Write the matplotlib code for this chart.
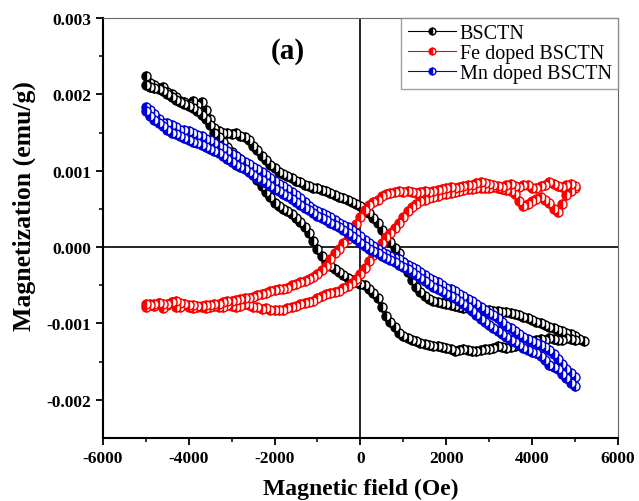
import numpy as np
import matplotlib
matplotlib.use('Agg')
from matplotlib import pyplot as plt

plt.rcParams['font.family'] = ['Liberation Serif', 'DejaVu Serif']

# field sweep (Oe), -5000 -> 5000
field_up = [-5000, -4900, -4800, -4700, -4600, -4500, -4400, -4300, -4200, -4100,
            -4000, -3900, -3800, -3700, -3600, -3500, -3400, -3300, -3200, -3100,
            -3000, -2900, -2800, -2700, -2600, -2500, -2400, -2300, -2200, -2100,
            -2000, -1900, -1800, -1700, -1600, -1500, -1400, -1300, -1200, -1100,
            -1000, -900, -800, -700, -600, -500, -400, -300, -200, -100,
            0, 100, 200, 300, 400, 500, 600, 700, 800, 900,
            1000, 1100, 1200, 1300, 1400, 1500, 1600, 1700, 1800, 1900,
            2000, 2100, 2200, 2300, 2400, 2500, 2600, 2700, 2800, 2900,
            3000, 3100, 3200, 3300, 3400, 3500, 3600, 3700, 3800, 3900,
            4000, 4100, 4200, 4300, 4400, 4500, 4600, 4700, 4800, 4900,
            5000]
field_down = field_up[::-1]

# BSCTN
bsctn_up = [0.00224, 0.00215, 0.00212, 0.00208, 0.00210, 0.00203, 0.00200, 0.00196, 0.00192, 0.00190,
            0.00187, 0.00192, 0.00186, 0.00190, 0.00180, 0.00168, 0.00156, 0.00152, 0.00150, 0.00149,
            0.00148, 0.00150, 0.00146, 0.00144, 0.00140, 0.00133, 0.00127, 0.00120, 0.00114, 0.00108,
            0.00104, 0.00099, 0.00096, 0.00093, 0.00090, 0.00087, 0.00085, 0.00082, 0.00080, 0.00078,
            0.00077, 0.00075, 0.00073, 0.00071, 0.00068, 0.00066, 0.00064, 0.00062, 0.00059, 0.00057,
            0.00054, 0.00050, 0.00045, 0.00038, 0.00031, 0.00023, 0.00015, 0.00007, -0.00001, -0.00008,
            -0.00020, -0.00032, -0.00043, -0.00052, -0.00059, -0.00064, -0.00068, -0.00070, -0.00072, -0.00073,
            -0.00075, -0.00076, -0.00077, -0.00079, -0.00080, -0.00080, -0.00081, -0.00080, -0.00081, -0.00082,
            -0.00083, -0.00084, -0.00084, -0.00085, -0.00085, -0.00086, -0.00087, -0.00089, -0.00091, -0.00093,
            -0.00096, -0.00098, -0.00100, -0.00102, -0.00104, -0.00106, -0.00108, -0.00110, -0.00112, -0.00114,
            -0.00116]
bsctn_turn_x = [5100, 5200]
bsctn_turn = [-0.00120, -0.00123]
bsctn_down = [-0.00121, -0.00120, -0.00119, -0.00121, -0.00122, -0.00120, -0.00119, -0.00121, -0.00120, -0.00121,
              -0.00123, -0.00124, -0.00126, -0.00128, -0.00130, -0.00131, -0.00132, -0.00131, -0.00130, -0.00132,
              -0.00133, -0.00134, -0.00135, -0.00136, -0.00136, -0.00135, -0.00134, -0.00135, -0.00136, -0.00134,
              -0.00132, -0.00131, -0.00130, -0.00129, -0.00128, -0.00127, -0.00125, -0.00123, -0.00121, -0.00119,
              -0.00116, -0.00112, -0.00105, -0.00098, -0.00090, -0.00078, -0.00066, -0.00060, -0.00055, -0.00050,
              -0.00048, -0.00046, -0.00043, -0.00040, -0.00036, -0.00032, -0.00029, -0.00025, -0.00020, -0.00012,
              -0.00003, 0.00008, 0.00018, 0.00026, 0.00033, 0.00038, 0.00043, 0.00047, 0.00050, 0.00054,
              0.00058, 0.00065, 0.00072, 0.00080, 0.00088, 0.00094, 0.00100, 0.00108, 0.00115, 0.00120,
              0.00125, 0.00131, 0.00138, 0.00144, 0.00150, 0.00160, 0.00168, 0.00173, 0.00178, 0.00182,
              0.00185, 0.00188, 0.00190, 0.00193, 0.00196, 0.00201, 0.00205, 0.00207, 0.00208, 0.00210,
              0.00212]

# Fe doped BSCTN
fe_up = [-0.00078, -0.00074, -0.00077, -0.00073, -0.00080, -0.00076, -0.00072, -0.00078, -0.00079, -0.00075,
         -0.00078, -0.00080, -0.00078, -0.00079, -0.00080, -0.00078, -0.00077, -0.00079, -0.00078, -0.00076,
         -0.00077, -0.00078, -0.00077, -0.00075, -0.00076, -0.00078, -0.00079, -0.00081, -0.00080, -0.00083,
         -0.00082, -0.00083, -0.00082, -0.00080, -0.00078, -0.00077, -0.00075, -0.00073, -0.00072, -0.00070,
         -0.00067, -0.00064, -0.00062, -0.00060, -0.00059, -0.00057, -0.00054, -0.00051, -0.00047, -0.00042,
         -0.00035, -0.00027, -0.00018, -0.00010, -0.00002, 0.00006, 0.00013, 0.00019, 0.00025, 0.00032,
         0.00040, 0.00047, 0.00053, 0.00057, 0.00060, 0.00062, 0.00064, 0.00066, 0.00067, 0.00069,
         0.00070, 0.00071, 0.00072, 0.00074, 0.00075, 0.00076, 0.00076, 0.00078, 0.00078, 0.00077,
         0.00078, 0.00079, 0.00077, 0.00076, 0.00075, 0.00073, 0.00070, 0.00060, 0.00054, 0.00057,
         0.00060, 0.00063, 0.00065, 0.00062, 0.00058, 0.00050, 0.00046, 0.00056, 0.00068, 0.00074,
         0.00078]
fe_down = [0.00080, 0.00083, 0.00082, 0.00079, 0.00080, 0.00083, 0.00085, 0.00082, 0.00080, 0.00077,
           0.00078, 0.00081, 0.00082, 0.00079, 0.00080, 0.00083, 0.00082, 0.00079, 0.00080, 0.00082,
           0.00083, 0.00084, 0.00085, 0.00084, 0.00082, 0.00081, 0.00080, 0.00079, 0.00078, 0.00079,
           0.00078, 0.00076, 0.00075, 0.00073, 0.00072, 0.00073, 0.00072, 0.00071, 0.00072, 0.00073,
           0.00072, 0.00073, 0.00072, 0.00071, 0.00070, 0.00067, 0.00062, 0.00059, 0.00055, 0.00049,
           0.00040, 0.00030, 0.00020, 0.00011, 0.00005, -0.00003, -0.00008, -0.00015, -0.00025, -0.00030,
           -0.00035, -0.00039, -0.00042, -0.00044, -0.00046, -0.00048, -0.00050, -0.00053, -0.00055, -0.00055,
           -0.00056, -0.00058, -0.00060, -0.00062, -0.00063, -0.00065, -0.00066, -0.00067, -0.00068, -0.00069,
           -0.00070, -0.00071, -0.00072, -0.00074, -0.00075, -0.00076, -0.00076, -0.00077, -0.00077, -0.00076,
           -0.00076, -0.00074, -0.00073, -0.00071, -0.00072, -0.00074, -0.00075, -0.00073, -0.00074, -0.00076,
           -0.00075]

# Mn doped BSCTN
mn_up = [0.00184, 0.00180, 0.00175, 0.00168, 0.00163, 0.00162, 0.00160, 0.00157, 0.00154, 0.00153,
         0.00152, 0.00149, 0.00147, 0.00145, 0.00142, 0.00140, 0.00137, 0.00133, 0.00130, 0.00126,
         0.00122, 0.00119, 0.00115, 0.00112, 0.00109, 0.00105, 0.00102, 0.00098, 0.00094, 0.00090,
         0.00086, 0.00083, 0.00080, 0.00076, 0.00072, 0.00068, 0.00064, 0.00059, 0.00054, 0.00050,
         0.00047, 0.00045, 0.00042, 0.00039, 0.00036, 0.00032, 0.00029, 0.00026, 0.00023, 0.00018,
         0.00014, 0.00009, 0.00005, 0.00001, -0.00003, -0.00006, -0.00009, -0.00011, -0.00014, -0.00016,
         -0.00019, -0.00023, -0.00026, -0.00029, -0.00032, -0.00036, -0.00040, -0.00043, -0.00046, -0.00050,
         -0.00053, -0.00055, -0.00058, -0.00061, -0.00064, -0.00068, -0.00071, -0.00075, -0.00078, -0.00082,
         -0.00086, -0.00089, -0.00093, -0.00098, -0.00103, -0.00106, -0.00110, -0.00114, -0.00118, -0.00120,
         -0.00123, -0.00126, -0.00128, -0.00131, -0.00135, -0.00140, -0.00146, -0.00153, -0.00160, -0.00165,
         -0.00170]
mn_down = [-0.00182, -0.00178, -0.00172, -0.00166, -0.00160, -0.00157, -0.00154, -0.00148, -0.00142, -0.00139,
           -0.00137, -0.00135, -0.00132, -0.00128, -0.00124, -0.00121, -0.00118, -0.00114, -0.00110, -0.00106,
           -0.00102, -0.00098, -0.00094, -0.00089, -0.00084, -0.00079, -0.00074, -0.00070, -0.00067, -0.00064,
           -0.00062, -0.00058, -0.00055, -0.00052, -0.00048, -0.00044, -0.00040, -0.00036, -0.00032, -0.00029,
           -0.00026, -0.00023, -0.00020, -0.00017, -0.00014, -0.00011, -0.00008, -0.00005, -0.00002, 0.00002,
           0.00006, 0.00010, 0.00014, 0.00018, 0.00022, 0.00026, 0.00029, 0.00032, 0.00035, 0.00038,
           0.00041, 0.00045, 0.00048, 0.00051, 0.00055, 0.00059, 0.00063, 0.00067, 0.00070, 0.00073,
           0.00076, 0.00080, 0.00084, 0.00088, 0.00091, 0.00095, 0.00098, 0.00102, 0.00105, 0.00108,
           0.00112, 0.00116, 0.00120, 0.00123, 0.00126, 0.00129, 0.00131, 0.00134, 0.00136, 0.00138,
           0.00140, 0.00143, 0.00146, 0.00148, 0.00150, 0.00154, 0.00158, 0.00162, 0.00166, 0.00172,
           0.00178]

series = [
    ('BSCTN', field_up + bsctn_turn_x + field_down, bsctn_up + bsctn_turn + bsctn_down, 'black'),
    ('Fe doped BSCTN', field_up + field_down, fe_up + fe_down, 'red'),
    ('Mn doped BSCTN', field_up + field_down, mn_up + mn_down, '#0000dd'),
]

fig = plt.figure(figsize=(6.39, 5.02), dpi=100)
ax = fig.add_axes([0.161, 0.1255, 0.806, 0.8365])

ax.axhline(0, color='black', lw=1.2, zorder=1)
ax.axvline(0, color='black', lw=1.2, zorder=1)

for name, xs, ys, c in series:
    ax.plot(xs, ys, color=c, lw=0.8, marker='o', ms=6.5, mew=1.0, mec=c, mfc=c,
            fillstyle='left', markerfacecoloralt='white', label=name, zorder=3)

ax.set_xlim(-6000, 6000)
ax.set_ylim(-0.0025, 0.003)
ax.set_xticks([-6000, -4000, -2000, 0, 2000, 4000, 6000])
ax.set_xticks([-5000, -3000, -1000, 1000, 3000, 5000], minor=True)
ax.set_yticks([-0.002, -0.001, 0.0, 0.001, 0.002, 0.003])
ax.set_yticks([-0.0015, -0.0005, 0.0005, 0.0015, 0.0025], minor=True)
ax.set_yticklabels(['-0.002', '-0.001', '0.000', '0.001', '0.002', '0.003'])
ax.set_xticklabels(['-6000', '-4000', '-2000', '0', '2000', '4000', '6000'])
ax.tick_params(which='major', direction='out', length=5, width=1.3, labelsize=12.5)
ax.tick_params(which='minor', direction='out', length=3, width=1.1)
for lab in ax.get_xticklabels() + ax.get_yticklabels():
    lab.set_fontweight('bold')

ax.spines['left'].set_linewidth(1.5)
ax.spines['bottom'].set_linewidth(1.5)
ax.spines['top'].set_color('#666666')
ax.spines['right'].set_color('#666666')

ax.set_xlabel('Magnetic field (Oe)', fontsize=17, fontweight='bold')
ax.xaxis.set_label_coords(0.5, -0.095)
ax.set_ylabel('Magnetization (emu/g)', fontsize=18.5, fontweight='bold')
ax.yaxis.set_label_coords(-0.13, 0.555)

ax.text(-1700, 0.00258, '(a)', fontsize=21, fontweight='bold', ha='center', va='center')

leg = ax.legend(loc='upper right', fontsize=14.5, frameon=True, fancybox=False,
                edgecolor='#888888', handlelength=2.4, borderpad=0.3,
                labelspacing=0.05, handletextpad=0.2, borderaxespad=0.0,
                markerscale=0.75)
leg.get_frame().set_linewidth(1.0)
for h in leg.get_lines():
    h.set_linewidth(0.8)

fig.savefig('out.png')
